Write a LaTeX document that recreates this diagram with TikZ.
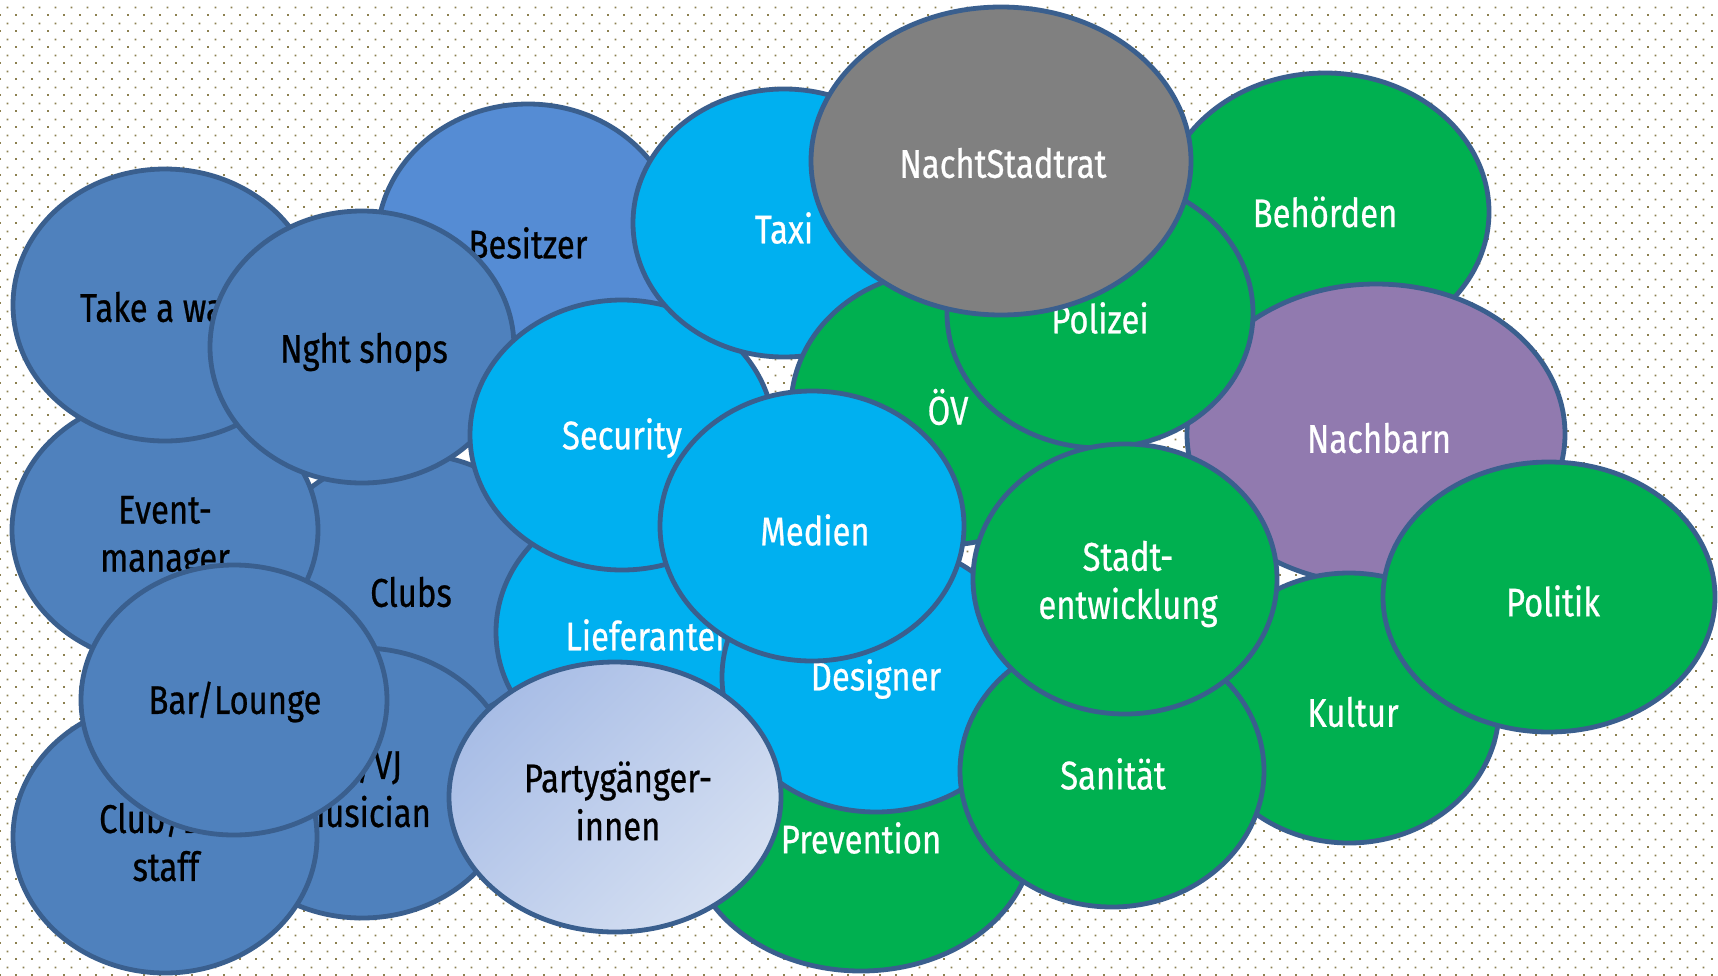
\documentclass[tikz,border=0pt]{standalone}
\usepackage{fontspec}
\newfontfamily\dinfont[FakeStretch=0.82,FakeBold=0.6]{Fira Sans}
\usetikzlibrary{shapes.geometric,patterns.meta}
\definecolor{edgecol}{HTML}{3A5F8E}
\definecolor{steel}{HTML}{4F81BD}
\definecolor{steellt}{HTML}{558CD4}
\definecolor{cyanb}{HTML}{00B0F0}
\definecolor{greenb}{HTML}{00B050}
\definecolor{grayb}{HTML}{808080}
\definecolor{purpleb}{HTML}{917AAF}
\definecolor{partya}{HTML}{A8BDE6}
\definecolor{partyb}{HTML}{D6E0F2}
\definecolor{dotcol}{HTML}{8C8050}
\tikzdeclarepattern{
  name=bgdots, type=colored,
  bottom left={(0pt,0pt)}, top right={(8pt,8pt)}, tile size={(8pt,8pt)},
  code={\fill[dotcol] (0pt,0pt) rectangle (1pt,1pt);
        \fill[dotcol] (4pt,4pt) rectangle (5pt,5pt);}
}
\tikzset{
  bub/.style={ellipse, draw=edgecol, line width=2.4pt, inner sep=0pt, outer sep=0pt},
  lbl/.style={inner sep=0pt, align=center, font=\dinfont\fontsize{20pt}{24pt}\selectfont},
  dk/.style={lbl, text=black},
  wt/.style={lbl, text=white},
}
\newcommand{\bub}[6]{\node[bub, fill=#6, minimum width=#4pt, minimum height=#5pt] (#1) at (#2,#3) {};}
\begin{document}
\begin{tikzpicture}[x=0.5pt,y=-0.5pt]
\useasboundingbox (0,0) rectangle (1718,975);
\fill[white] (0,0) rectangle (1718,975);
\fill[pattern=bgdots] (0,0) rectangle (1718,975);

\bub{clubs}{411}{590}{152}{136}{steel}
\node[dk] (clubs-t) at (411,592) {Clubs};
\bub{event}{165}{530}{153}{134}{steel}
\node[dk] (event-t) at (165,538) {Event-\\manager};
\bub{walk}{165}{305}{152}{136}{steel}
\node[dk] (walk-t) at (165,307) {Take a walk};
\bub{dj}{362}{783}{152}{135}{steel}
\node[dk] (dj-t) at (364,787) {DJ/VJ\\musician};
\bub{staff}{165}{837}{152}{136}{steel}
\node[dk] (staff-t) at (166,841) {Club/Bar\\staff};
\bub{bar}{234}{700}{153}{135}{steel}
\node[dk] (bar-t) at (235,702) {Bar/Lounge};
\bub{besitzer}{528}{242}{151}{138}{steellt}
\node[dk] (besitzer-t) at (528,243) {Besitzer};
\bub{night}{362}{347}{152}{136}{steel}
\node[dk] (night-t) at (364,352) {Nght shops};
\bub{liefer}{648}{632}{152}{136}{cyanb}
\node[wt] (liefer-t) at (650,635) {Lieferanten};
\bub{security}{622}{435}{152}{135}{cyanb}
\node[wt] (security-t) at (622,438) {Security};
\bub{taxi}{784}{223}{151}{134}{cyanb}
\node[wt] (taxi-t) at (784,228) {Taxi};
\bub{prevention}{861}{836}{172}{135}{greenb}
\node[wt] (prevention-t) at (861,838) {Prevention};
\bub{designer}{876}{677}{154}{135}{cyanb}
\node[wt] (designer-t) at (876,679) {Designer};
\bub{behoerden}{1325}{212}{164}{139}{greenb}
\node[wt] (behoerden-t) at (1325,212) {Behörden};
\bub{nachbarn}{1376}{434}{189}{150}{purpleb}
\node[wt] (nachbarn-t) at (1379,438) {Nachbarn};
\bub{oev}{944}{408}{153}{137}{greenb}
\node[wt] (oev-t) at (948,407) {ÖV};
\bub{polizei}{1100}{313}{153}{135}{greenb}
\node[wt] (polizei-t) at (1100,318) {Polizei};
\bub{nacht}{1001}{161}{190}{154}{grayb}
\node[wt] (nacht-t) at (1003,163) {NachtStadtrat};
\bub{medien}{812}{526}{152}{135}{cyanb}
\node[wt] (medien-t) at (815,530) {Medien};
\bub{kultur}{1349}{708}{150}{135}{greenb}
\node[wt] (kultur-t) at (1353,712) {Kultur};
\bub{politik}{1549}{597}{166}{135}{greenb}
\node[wt] (politik-t) at (1553,601) {Politik};
\bub{sanitaet}{1112}{771}{152}{136}{greenb}
\node[wt] (sanitaet-t) at (1113,774) {Sanität};
\bub{stadt}{1125}{579}{152}{135}{greenb}
\node[wt] (stadt-t) at (1128,584) {Stadt-\\entwicklung};
\node[bub, top color=partya, bottom color=partyb, shading angle=45,
      minimum width=166pt, minimum height=135pt] (party) at (615,797) {};
\node[dk] (party-t) at (618,801) {Partygänger-\\innen};
\end{tikzpicture}
\end{document}
